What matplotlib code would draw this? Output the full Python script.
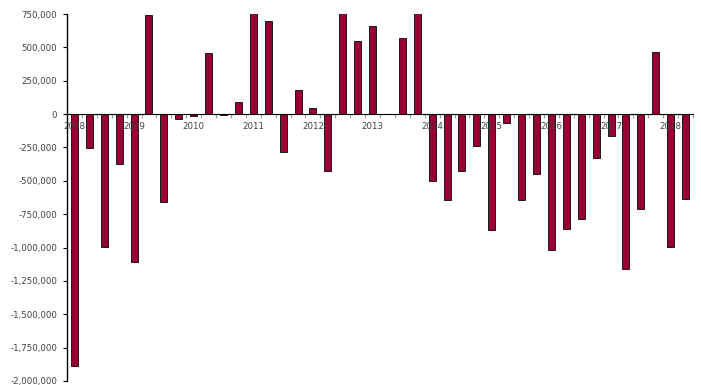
import matplotlib.pyplot as plt
import numpy as np
from matplotlib.ticker import FuncFormatter

# quarterly values, 2008 Q1 .. 2018 Q2 (bars above 750,000 are clipped in the chart)
years = [str(y) for y in range(2008, 2019)]
values = [
    -1890000, -255000, -995000, -375000,     # 2008
    -1110000, 740000, -660000, -40000,       # 2009
    -15000, 455000, -8000, 92000,            # 2010
    800000, 695000, -282000, 178000,         # 2011
    45000, -425000, 800000, 550000,          # 2012
    662000, 3000, 568000, 800000,            # 2013
    -500000, -644000, -427000, -237000,      # 2014
    -871000, -70000, -647000, -452000,       # 2015
    -1019000, -861000, -789000, -332000,     # 2016
    -165000, -1161000, -714000, 462000,      # 2017
    -999000, -639000,                        # 2018
]

bar_color = "#990033"
text_color = "#404040"

fig = plt.figure(figsize=(7.01, 3.85), dpi=100)
ax = fig.add_axes([0.0956, 0.0104, 0.893, 0.9532])

x = np.arange(len(values))
# bars below the axis artists so the year labels are drawn on top of them
ax.bar(x, values, width=0.47, color=bar_color, edgecolor="#1a1a1a", linewidth=0.7, zorder=1)

ax.set_xlim(-0.5, len(values) - 0.5)
ax.set_ylim(-2000000, 750000)
ax.set_yticks(np.arange(-2000000, 750001, 250000))
ax.yaxis.set_major_formatter(FuncFormatter(lambda v, p: f"{int(v):,}"))
ax.tick_params(axis="y", labelsize=6.2, labelcolor=text_color, length=3, width=0.8, pad=4)

# category boundary ticks and year labels
ax.set_xticks(np.arange(-0.5, len(values), 1.0))
ax.set_xticklabels([])
ax.tick_params(axis="x", which="major", length=3, color="#999999", width=0.8)
ax.set_xticks(np.arange(0, len(values), 4), minor=True)
ax.set_xticklabels(years, minor=True)
ax.tick_params(axis="x", which="minor", length=0, labelsize=6.2, labelcolor=text_color, pad=6)

ax.spines["bottom"].set_position(("data", 0))
ax.spines["top"].set_visible(False)
ax.spines["right"].set_visible(False)
ax.spines["left"].set_linewidth(1.0)

fig.savefig("out.png", dpi=100)
